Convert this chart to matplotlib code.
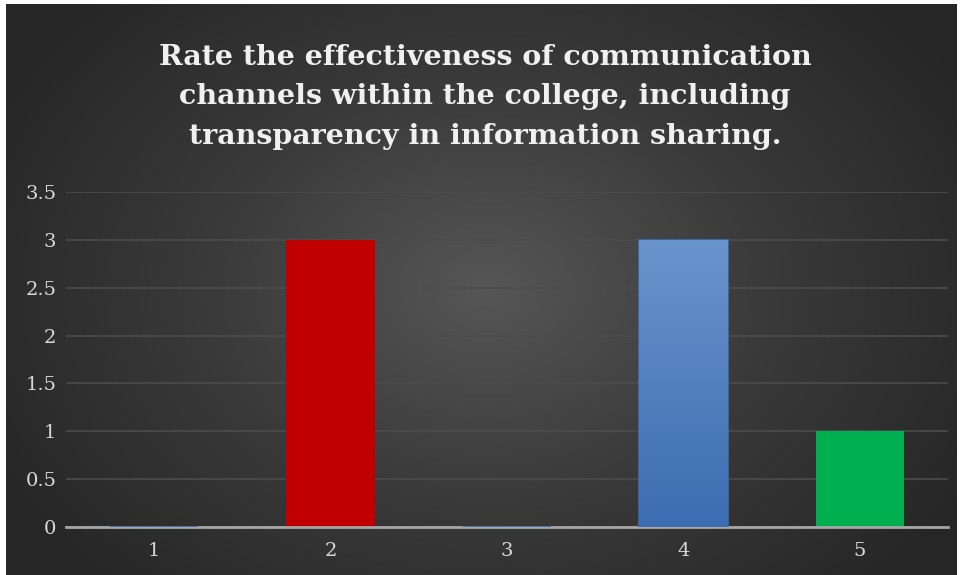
import numpy as np
import matplotlib
matplotlib.use("Agg")
import matplotlib.pyplot as plt
from matplotlib.colors import LinearSegmentedColormap

# Survey responses per rating
ratings = ["1", "2", "3", "4", "5"]
counts = [0, 3, 0, 3, 1]
title = ("Rate the effectiveness of communication\n"
         "channels within the college, including\n"
         "transparency in information sharing.")
y_ticks = [0, 0.5, 1, 1.5, 2, 2.5, 3, 3.5]
y_tick_labels = ["0", "0.5", "1", "1.5", "2", "2.5", "3", "3.5"]

# Default series colour is a blue gradient; two points are overridden
point_fill = {"2": "#C00000", "5": "#00B050"}
blue_top, blue_bottom = "#6A94CC", "#3C6DB1"

W, H = 960, 575
fig = plt.figure(figsize=(W / 100, H / 100), dpi=100, facecolor="white")

# Radial-gradient chart background
bg = fig.add_axes([6 / W, 0, 951 / W, 571 / H])
bg.set_axis_off()
yy, xx = np.mgrid[0:571, 0:951]
r = np.sqrt(((xx - 480) / 560) ** 2 + ((yy - 285) / 420) ** 2)
r = np.clip(r, 0, 1)
bg_cmap = LinearSegmentedColormap.from_list("bg", ["#565656", "#3a3a3a", "#262626"])
bg.imshow(r, cmap=bg_cmap, vmin=0, vmax=1, aspect="auto",
          extent=[0, 1, 0, 1], interpolation="bilinear")
bg.set_xlim(0, 1)
bg.set_ylim(0, 1)

# Plot area
ax = fig.add_axes([66 / W, (H - 527) / H, 882 / W, 335 / H])
ax.patch.set_alpha(0)
x = np.arange(1, len(ratings) + 1)

grad_cmap = LinearSegmentedColormap.from_list("bar", [blue_bottom, blue_top])
grad = np.linspace(0, 1, 256).reshape(-1, 1)

for xi, lab, val in zip(x, ratings, counts):
    color = point_fill.get(lab)
    if color is not None:
        ax.bar(xi, val, width=0.5, color=color, zorder=3, linewidth=0)
    else:
        bar = ax.bar(xi, val, width=0.5, color="none", edgecolor=blue_bottom,
                     linewidth=1.2, zorder=5)[0]
        if val > 0:
            im = ax.imshow(grad, cmap=grad_cmap, origin="lower", aspect="auto",
                           extent=[xi - 0.25, xi + 0.25, 0, val], zorder=5)
            im.set_clip_path(bar)
ax.set_xlim(0.5, 5.5)
ax.set_ylim(0, 3.5)

ax.set_yticks(y_ticks)
ax.set_yticklabels(y_tick_labels)
ax.set_xticks(x)
ax.set_xticklabels(ratings)
ax.tick_params(length=0, colors="#d9d9d9", labelsize=14)
ax.tick_params(axis="x", pad=11)
ax.tick_params(axis="y", pad=7)
for t in ax.get_xticklabels() + ax.get_yticklabels():
    t.set_family("DejaVu Serif")
    t.set_color("#d9d9d9")

ax.grid(axis="y", color="#4c4c4c", linewidth=1.2, zorder=0)
ax.grid(axis="x", visible=False)
for s in ["top", "right", "left"]:
    ax.spines[s].set_visible(False)
ax.spines["bottom"].set_color("#a6a6a6")
ax.spines["bottom"].set_linewidth(2)
ax.spines["bottom"].set_zorder(4)

fig.text(485 / W, 1 - 97 / H, title, ha="center", va="center",
         fontsize=20.5, fontweight="bold", family="DejaVu Serif",
         color="#f0f0f0", linespacing=1.6)

fig.savefig("out.png", dpi=100, facecolor="white")
